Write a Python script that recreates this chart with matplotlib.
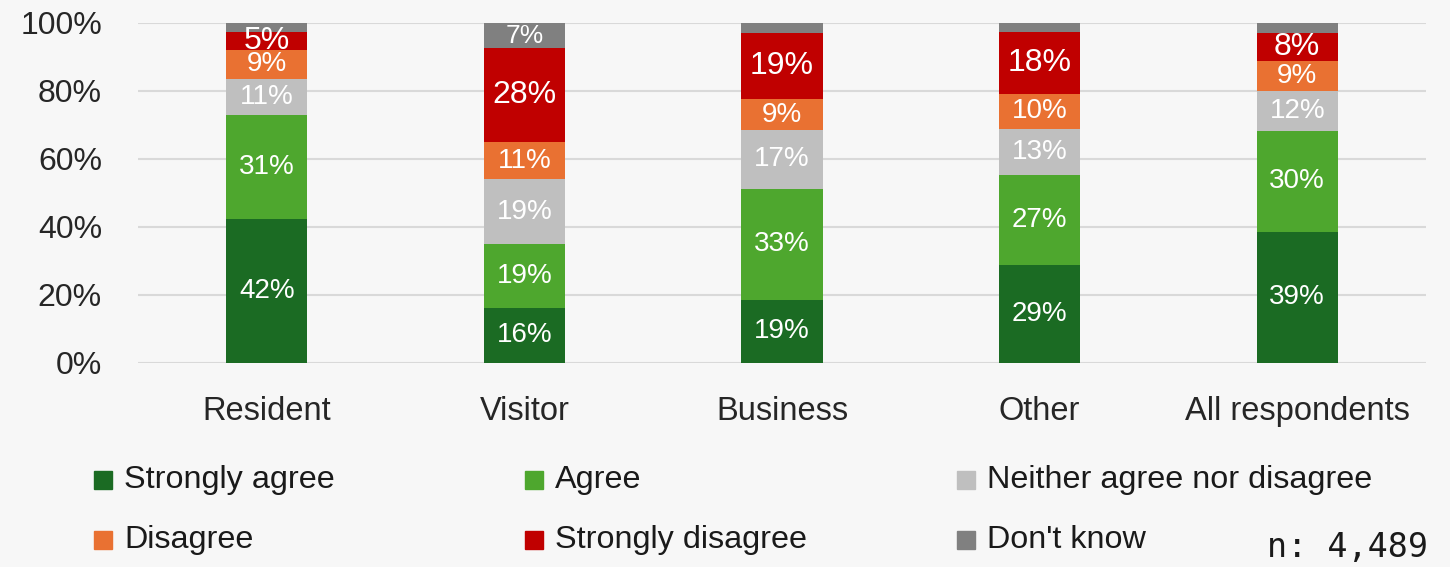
import matplotlib
matplotlib.use("Agg")
import matplotlib.pyplot as plt
from matplotlib.patches import Rectangle
import numpy as np

categories = ["Resident", "Visitor", "Business", "Other", "All respondents"]
series_names = ["Strongly agree", "Agree", "Neither agree nor disagree",
                "Disagree", "Strongly disagree", "Don't know"]
strongly_agree = [42.4, 16.2, 18.6, 28.8, 38.6]
agree = [30.6, 18.8, 32.7, 26.6, 29.7]
neither = [10.6, 19.1, 17.2, 13.4, 11.8]
disagree = [8.6, 10.9, 9.1, 10.4, 8.8]
strongly_disagree = [5.2, 27.6, 19.4, 18.1, 8.2]
dont_know = [2.6, 7.4, 3.0, 2.7, 2.9]
yticks = [0, 20, 40, 60, 80, 100]
n_text = "n: 4,489"

colors = ["#1b6b23", "#4ea72e", "#bfbfbf", "#e97132", "#c00000", "#808080"]
label_sizes = [20, 20, 20, 20, 23, 19]
series = [strongly_agree, agree, neither, disagree, strongly_disagree, dont_know]

bg = "#f7f7f7"
fig = plt.figure(figsize=(14.5, 5.67), dpi=100, facecolor=bg)
ax = fig.add_axes([138/1450, 1 - 363/567, (1426-138)/1450, (363-23)/567])
ax.set_facecolor(bg)

x = np.arange(len(categories))
bottom = np.zeros(len(categories))
for name, vals, c, fs in zip(series_names, series, colors, label_sizes):
    vals = np.array(vals)
    ax.bar(x, vals, 0.315, bottom=bottom, color=c, label=name, zorder=3)
    for xi, b, v in zip(x, bottom, vals):
        if v >= 4:
            ax.text(xi, b + v / 2, f"{round(v):d}%", ha="center", va="center",
                    color="white", fontsize=fs, family="Liberation Sans", zorder=4)
    bottom += vals

ax.set_xlim(-0.5, len(categories) - 0.5)
ax.set_ylim(0, 100)
ax.set_yticks(yticks)
ax.set_yticklabels([f"{t}%" for t in yticks], fontsize=23, family="Liberation Sans", color="#262626")
ax.set_xticks(x)
ax.set_xticklabels(categories, fontsize=23.5, family="Liberation Sans", color="#262626")
ax.tick_params(length=0)
ax.tick_params(axis="y", pad=26)
ax.tick_params(axis="x", pad=24)
ax.grid(axis="y", color="#d9d9d9", linewidth=1.5, zorder=0)
for s in ax.spines.values():
    s.set_visible(False)

# legend (manual grid: 3 columns x 2 rows)
legend_font = ["Liberation Sans"]
col_x = [94, 525, 957]
row_y = [480, 540]
for i, (name, c) in enumerate(zip(series_names, colors)):
    r, cidx = divmod(i, 3)
    px, py = col_x[cidx], row_y[r]
    fig.patches.append(Rectangle(((px) / 1450, 1 - (py + 9) / 567), 18 / 1450, 18 / 567,
                                 transform=fig.transFigure, color=c))
    fig.text((px + 30) / 1450, 1 - py / 567, name, fontsize=23.3, family=legend_font,
             va="center", ha="left", color="#1a1a1a")

fig.text(1428 / 1450, 1 - 548 / 567, n_text, fontsize=24, family="DejaVu Sans Mono",
         va="center", ha="right", color="#1a1a1a")

fig.savefig("out.png", dpi=100, facecolor=bg)
